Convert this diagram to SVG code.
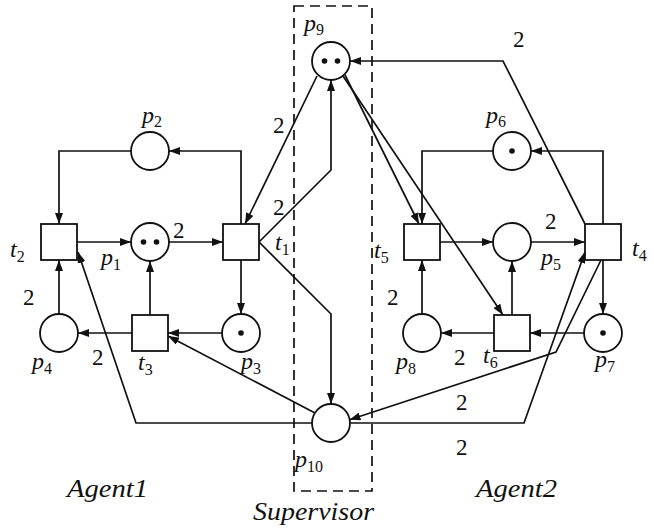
<svg xmlns="http://www.w3.org/2000/svg" width="654" height="531" viewBox="0 0 654 531">
<defs>
<marker id="ah" markerUnits="userSpaceOnUse" markerWidth="11" markerHeight="8" refX="11" refY="4" orient="auto">
<path d="M0,0 L11,4 L0,8 z" fill="#111"/>
</marker>
</defs>
<style>
.e{fill:none;stroke:#111;stroke-width:1.7;marker-end:url(#ah)}
.pl{fill:#fff;stroke:#111;stroke-width:1.8}
.tr{fill:#fff;stroke:#111;stroke-width:1.8}
.tk{fill:#111}
.lab{font-family:"Liberation Serif",serif;font-style:italic;font-size:24px;fill:#111}
.sub{font-size:16px;font-style:normal}
.w{font-family:"Liberation Serif",serif;font-size:23px;fill:#111}
.big{font-family:"Liberation Serif",serif;font-style:italic;font-size:25px;fill:#111}
.box{fill:none;stroke:#111;stroke-width:1.7;stroke-dasharray:10 6}
</style>
<rect class="box" x="294" y="6" width="78" height="485"/>
<g id="connectors">
<path class="e" d="M241,224 V151 H169"/>
<path class="e" d="M131,151 H59 V224"/>
<path class="e" d="M77,242 H131"/>
<path class="e" d="M169,242 H223"/>
<path class="e" d="M241,260 V314"/>
<path class="e" d="M222,333 H168"/>
<path class="e" d="M132,333 H78"/>
<path class="e" d="M59,314 V260"/>
<path class="e" d="M150,315 V261"/>
<path class="e" d="M317,76 L245,224"/>
<path class="e" d="M259,242 L331,170 V80"/>
<path class="e" d="M259,242 L331,314 V404"/>
<path class="e" d="M315,413 L168,336"/>
<path class="e" d="M312,423 H136 L78,252"/>
<path class="e" d="M603,224 V151 H531"/>
<path class="e" d="M493,151 H422 V224"/>
<path class="e" d="M440,242 H493"/>
<path class="e" d="M531,242 H585"/>
<path class="e" d="M603,260 V314"/>
<path class="e" d="M584,333 H530"/>
<path class="e" d="M494,333 H441"/>
<path class="e" d="M422,314 V260"/>
<path class="e" d="M512,315 V261"/>
<path class="e" d="M345,75 L419,224"/>
<path class="e" d="M343,76 L503,315"/>
<path class="e" d="M585,224 L503,61 H350"/>
<path class="e" d="M601,260 L556,352 L349.5,419.8"/>
<path class="e" d="M350,423 H524 L585,252"/>
<text class="w" x="273" y="133">2</text>
<text class="w" x="273" y="215">2</text>
<text class="w" x="173" y="238">2</text>
<text class="w" x="23" y="305">2</text>
<text class="w" x="92" y="365">2</text>
<text class="w" x="387" y="305">2</text>
<text class="w" x="545" y="229">2</text>
<text class="w" x="513" y="47">2</text>
<text class="w" x="454" y="365">2</text>
<text class="w" x="456" y="410">2</text>
<text class="w" x="456" y="455">2</text>
</g>
<g id="p1"><circle class="pl" cx="150" cy="242" r="19"/><circle class="tk" cx="143.5" cy="242" r="2.8"/><circle class="tk" cx="156.5" cy="242" r="2.8"/><text class="lab" x="101" y="265">p<tspan class="sub" dy="5">1</tspan></text></g>
<g id="p2"><circle class="pl" cx="150" cy="151" r="19"/><text class="lab" x="142" y="123">p<tspan class="sub" dy="4">2</tspan></text></g>
<g id="p3"><circle class="pl" cx="241" cy="333" r="19"/><circle class="tk" cx="241" cy="333" r="2.8"/><text class="lab" x="241" y="369">p<tspan class="sub" dy="5">3</tspan></text></g>
<g id="p4"><circle class="pl" cx="59" cy="333" r="19"/><text class="lab" x="32" y="369">p<tspan class="sub" dy="5">4</tspan></text></g>
<g id="p5"><circle class="pl" cx="512" cy="242" r="19"/><text class="lab" x="541" y="265">p<tspan class="sub" dy="5">5</tspan></text></g>
<g id="p6"><circle class="pl" cx="512" cy="151" r="19"/><circle class="tk" cx="512" cy="151" r="2.8"/><text class="lab" x="486" y="123">p<tspan class="sub" dy="4">6</tspan></text></g>
<g id="p7"><circle class="pl" cx="603" cy="333" r="19"/><circle class="tk" cx="603" cy="333" r="2.8"/><text class="lab" x="595" y="367">p<tspan class="sub" dy="5">7</tspan></text></g>
<g id="p8"><circle class="pl" cx="422" cy="333" r="19"/><text class="lab" x="396" y="369">p<tspan class="sub" dy="5">8</tspan></text></g>
<g id="p9"><circle class="pl" cx="331" cy="61" r="19"/><circle class="tk" cx="324.5" cy="61" r="2.8"/><circle class="tk" cx="337.5" cy="61" r="2.8"/><text class="lab" x="304" y="31">p<tspan class="sub" dy="4">9</tspan></text></g>
<g id="p10"><circle class="pl" cx="331" cy="423" r="19"/><text class="lab" x="295" y="467">p<tspan class="sub" dy="5">10</tspan></text></g>
<g id="t1"><rect class="tr" x="223" y="224" width="36" height="36"/><text class="lab" x="275" y="250">t<tspan class="sub" dy="5">1</tspan></text></g>
<g id="t2"><rect class="tr" x="41" y="224" width="36" height="36"/><text class="lab" x="10" y="257">t<tspan class="sub" dy="5">2</tspan></text></g>
<g id="t3"><rect class="tr" x="132" y="315" width="36" height="36"/><text class="lab" x="138" y="370">t<tspan class="sub" dy="5">3</tspan></text></g>
<g id="t4"><rect class="tr" x="585" y="224" width="36" height="36"/><text class="lab" x="632" y="256">t<tspan class="sub" dy="5">4</tspan></text></g>
<g id="t5"><rect class="tr" x="404" y="224" width="36" height="36"/><text class="lab" x="374" y="258">t<tspan class="sub" dy="5">5</tspan></text></g>
<g id="t6"><rect class="tr" x="494" y="315" width="36" height="36"/><text class="lab" x="483" y="363">t<tspan class="sub" dy="5">6</tspan></text></g>
<text class="big" x="67" y="497" textLength="81" lengthAdjust="spacingAndGlyphs">Agent1</text>
<text class="big" x="476" y="497" textLength="81" lengthAdjust="spacingAndGlyphs">Agent2</text>
<text class="big" x="253" y="520" textLength="121" lengthAdjust="spacingAndGlyphs">Supervisor</text>
</svg>
